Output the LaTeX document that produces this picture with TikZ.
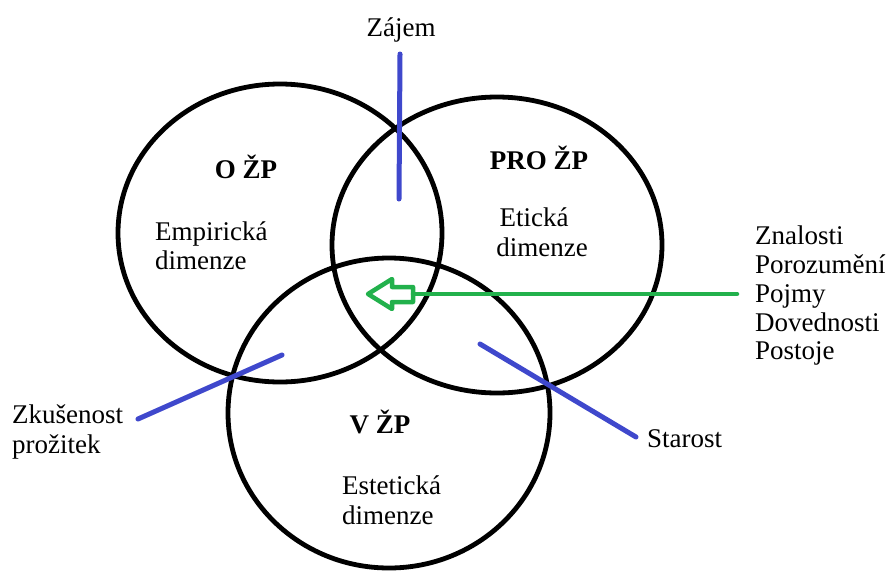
\documentclass[tikz,border=0pt]{standalone}
\usepackage{fontspec}
\setmainfont{Liberation Serif}
\usetikzlibrary{shapes.geometric}
\definecolor{pblue}{RGB}{63,72,204}
\definecolor{pgreen}{RGB}{34,177,76}
\begin{document}
\begin{tikzpicture}[x=1pt,y=-1pt,
  ring/.style={draw=black, line width=4.8pt, ellipse, inner sep=0pt, outer sep=0pt},
  lbl/.style={inner sep=0pt, font=\fontsize{27}{30}\selectfont},
  ttl/.style={inner sep=0pt, font=\fontsize{27}{30}\selectfont\bfseries},
  bline/.style={draw=pblue, line width=5pt, line cap=round},
  gline/.style={draw=pgreen, line width=4.5pt, line cap=round, line join=round}]
\useasboundingbox (0,0) rectangle (890,570);
% circles
\node[ring, minimum width=324pt, minimum height=298pt] (c1) at (280,233) {};
\node[ring, minimum width=330pt, minimum height=296pt] (c2) at (497,245) {};
\node[ring, minimum width=322pt, minimum height=310pt] (c3) at (389,413) {};
% titles
\node[ttl, anchor=base] (t1) at (246,178) {O ŽP};
\node[ttl, anchor=base] (t2) at (539,169) {PRO ŽP};
\node[ttl, anchor=base] (t3) at (380,433) {V ŽP};
% dimensions
\node[lbl, anchor=base west] (d1a) at (155,240) {Empirická};
\node[lbl, anchor=base west] (d1b) at (155,269) {dimenze};
\node[lbl, anchor=base] (d2a) at (534,226) {Etická};
\node[lbl, anchor=base] (d2b) at (542,256) {dimenze};
\node[lbl, anchor=base west] (d3a) at (342,494) {Estetická};
\node[lbl, anchor=base west] (d3b) at (342,524) {dimenze};
% outer labels
\node[lbl, anchor=base] (zajem) at (401,36) {Zájem};
\node[lbl, anchor=base west] (zk1) at (12,423) {Zkušenost};
\node[lbl, anchor=base west] (zk2) at (12,453) {prožitek};
\node[lbl, anchor=base west] (star) at (647,447) {Starost};
\node[lbl, anchor=base west] (r1) at (755,244) {Znalosti};
\node[lbl, anchor=base west] (r2) at (755,273) {Porozumění};
\node[lbl, anchor=base west] (r3) at (755,302) {Pojmy};
\node[lbl, anchor=base west] (r4) at (755,331) {Dovednosti};
\node[lbl, anchor=base west] (r5) at (755,359) {Postoje};
% blue connectors
\coordinate (za) at (400,54);
\coordinate (zb) at (399,199);
\coordinate (ka) at (138,419);
\coordinate (kb) at (282,355);
\coordinate (sa) at (480,344);
\coordinate (sb) at (636,437);
\draw[bline] (za) -- (zb);
\draw[bline] (ka) -- (kb);
\draw[bline] (sa) -- (sb);
% green arrow
\coordinate (gs) at (737,294);
\coordinate (ge) at (413,294);
\draw[gline] (gs) -- (ge);
\draw[gline] (368,294) -- (392,279) -- (392,287) -- (413,287) -- (413,302) -- (392,302) -- (392,309) -- cycle;
\end{tikzpicture}
\end{document}
